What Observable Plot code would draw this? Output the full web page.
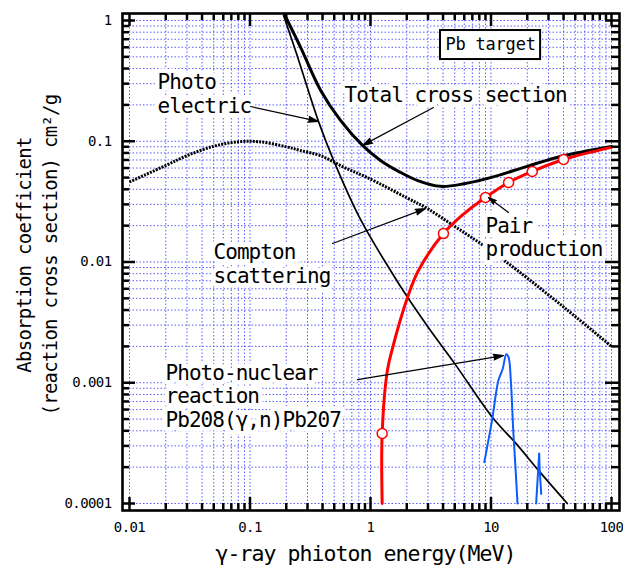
<!DOCTYPE html>
<html><head><meta charset="utf-8">
<script src="https://cdn.jsdelivr.net/npm/d3@7"></script>
<script src="https://cdn.jsdelivr.net/npm/@observablehq/plot@0.6"></script>
<style>
body{margin:0;background:#fff;overflow:hidden}
svg{display:block}
</style>
</head><body><div id="chart"></div>
<script>
// ---- data (MeV, cm^2/g) ----
const photoE = [0.19, 0.243, 0.37, 0.494, 0.826, 1.466, 2.03, 3, 5, 10.3, 16.3, 25.7, 43];
const photoV = [1.1, 0.533, 0.146, 0.0694, 0.0225, 0.0085, 0.0051, 0.0029, 0.00144, 0.000515, 0.00031, 0.00018, 0.0001];

const totalE = [0.195, 0.263, 0.385, 0.564, 0.859, 1.21, 1.77, 2.5, 3.81, 6, 9.9, 20, 37.8, 100];
const totalV = [1.1, 0.6, 0.265, 0.149, 0.0924, 0.0694, 0.0553, 0.047, 0.0423, 0.0445, 0.050, 0.062, 0.0748, 0.0905];

const comptonE = [0.01, 0.02, 0.03, 0.05, 0.08, 0.12, 0.2, 0.26, 0.385, 0.6, 0.944, 2, 2.97, 5, 8.67, 16.6, 43, 100];
const comptonV = [0.046, 0.063, 0.076, 0.091, 0.099, 0.099, 0.090, 0.084, 0.076, 0.061, 0.050, 0.034, 0.0277, 0.0197, 0.0137, 0.0085, 0.0040, 0.0020];

const pairE = [1.25, 1.25, 1.38, 1.52, 2.03, 2.5, 4.03, 6, 9, 14, 22, 40, 100];
const pairV = [0.0001, 0.00038, 0.00126, 0.00192, 0.0051, 0.0085, 0.0172, 0.0252, 0.0342, 0.0455, 0.0562, 0.0706, 0.089];

const pairMarkE = [1.25, 4.03, 9, 14, 22, 40];
const pairMarkV = [0.00038, 0.0172, 0.0342, 0.0455, 0.0562, 0.0706];

const nuclearE = [8.8, 9.5, 10.3, 11.5, 12.5, 13.4, 14.0, 14.6, 15.3, 16.0, 16.6];
const nuclearV = [0.00022, 0.00033, 0.00052, 0.00104, 0.0013, 0.00172, 0.00162, 0.00105, 0.0004, 0.00019, 0.0001];

const nuclear2E = [23.7, 25.1, 25.4, 26.1];
const nuclear2V = [0.0001, 0.00026, 0.000185, 0.00012];

const xTicks = [0.01, 0.1, 1, 10, 100];
const xTickLabels = ["0.01", "0.1", "1", "10", "100"];
const yTicks = [0.0001, 0.001, 0.01, 0.1, 1];
const yTickLabels = ["0.0001", "0.001", "0.01", "0.1", "1"];

const xTitle = "γ-ray phioton energy(MeV)";
const yTitle = "Absorption coefficient\n(reaction cross section) cm²/g";

const annotText = ["Total cross section", "Photo\nelectric", "Compton\nscattering", "Pair\nproduction", "Photo-nuclear\nreaction\nPb208(γ,n)Pb207"];
const annotE = [0.608, 0.0171, 0.0498, 9.0, 0.0199];
const annotV = [0.244, 0.248, 0.00972, 0.0161, 0.000784];

const arrowE1 = [0.101, 3.33, 0.484, 13.97, 0.78];
const arrowV1 = [0.194, 0.19, 0.01424, 0.0257, 0.00106];
const arrowE2 = [0.37, 0.859, 2.86, 9.53, 12.7];
const arrowV2 = [0.146, 0.0924, 0.0277, 0.0342, 0.00168];

const boxText = "Pb target";
const boxE = [3.81, 25.8];
const boxV = [0.475, 0.826];

// ---- derived tables ----
const zip = (E, V) => E.map((e, i) => ({e, v: V[i]}));
const photo = zip(photoE, photoV);
const total = zip(totalE, totalV);
const compton = zip(comptonE, comptonV);
const pair = zip(pairE, pairV);
const pairMarks = zip(pairMarkE, pairMarkV);
const nuclear = zip(nuclearE, nuclearV);
const nuclear2 = zip(nuclear2E, nuclear2V);
const annots = annotText.map((t, i) => ({t, e: annotE[i], v: annotV[i]}));
const arrows = arrowE1.map((e, i) => ({x1: e, y1: arrowV1[i], x2: arrowE2[i], y2: arrowV2[i]}));

const minorOf = majors => majors.slice(0, -1).flatMap(m => [2,3,4,5,6,7,8,9].map(k => +(m * k).toPrecision(3)));
const xMinor = minorOf(xTicks);
const yMinor = minorOf(yTicks);
const xAll = [...xTicks, ...xMinor];
const yAll = [...yTicks, ...yMinor];
const xLabelMap = new Map(xTicks.map((d, i) => [d, xTickLabels[i]]));
const yLabelMap = new Map(yTicks.map((d, i) => [d, yTickLabels[i]]));

const TW = 2.5;
const chart = Plot.plot({
  width: 623, height: 567,
  marginLeft: 129, marginRight: 12, marginTop: 20, marginBottom: 64,
  x: {type: "log", domain: [0.01, 100]},
  y: {type: "log", domain: [0.0001, 1]},
  style: {fontFamily: "'DejaVu Sans Mono', monospace", background: "white", color: "black"},
  marks: [
    Plot.gridX(xAll, {stroke: "#4a4aff", strokeOpacity: 0.9, strokeWidth: 1, strokeDasharray: "1.5,2"}),
    Plot.gridY(yAll, {stroke: "#4a4aff", strokeOpacity: 0.9, strokeWidth: 1, strokeDasharray: "1.5,2"}),
    Plot.line(compton, {x: "e", y: "v", curve: "catmull-rom", stroke: "black", strokeWidth: 3, strokeDasharray: "2,1.2", strokeLinecap: "butt"}),
    Plot.line(photo, {x: "e", y: "v", curve: "catmull-rom", stroke: "black", strokeWidth: 1.7}),
    Plot.line(total, {x: "e", y: "v", curve: "catmull-rom", stroke: "black", strokeWidth: 3}),
    Plot.line(pair, {x: "e", y: "v", curve: "catmull-rom", stroke: "#ff0000", strokeWidth: 3}),
    Plot.dot(pairMarks, {x: "e", y: "v", r: 5, fill: "white", stroke: "#ff0000", strokeWidth: 1.5}),
    Plot.line(nuclear, {x: "e", y: "v", curve: "catmull-rom", stroke: "#0a5cff", strokeWidth: 2}),
    Plot.line(nuclear2, {x: "e", y: "v", stroke: "#0a5cff", strokeWidth: 2}),
    Plot.text(annots, {x: "e", y: "v", text: "t", textAnchor: "start", lineAnchor: "middle", fontSize: 21, lineHeight: 1.12,
      fill: "black", stroke: "white", strokeWidth: 9, paintOrder: "stroke", strokeLinejoin: "round"}),
    Plot.arrow(arrows, {x1: "x1", y1: "y1", x2: "x2", y2: "y2", stroke: "black", fill: "black", strokeWidth: 1.2, headLength: 13, headAngle: 32}),
    Plot.rect([0], {x1: () => boxE[0], x2: () => boxE[1], y1: () => boxV[0], y2: () => boxV[1], fill: "white", stroke: "black", strokeWidth: 2}),
    Plot.text([boxText], {x: () => Math.sqrt(boxE[0] * boxE[1]), y: () => Math.sqrt(boxV[0] * boxV[1]), text: d => d, fontSize: 17}),
    // inward ticks on all four sides
    Plot.ruleX(xMinor, {x: d => d, insetTop: 483, insetBottom: -7, strokeWidth: TW}),
    Plot.ruleX(xTicks, {x: d => d, insetTop: 477, insetBottom: -7, strokeWidth: TW}),
    Plot.ruleX(xMinor, {x: d => d, insetTop: -7, insetBottom: 483, strokeWidth: TW}),
    Plot.ruleX(xTicks, {x: d => d, insetTop: -7, insetBottom: 477, strokeWidth: TW}),
    Plot.ruleY(yMinor, {y: d => d, insetLeft: -7, insetRight: 482, strokeWidth: TW}),
    Plot.ruleY(yTicks, {y: d => d, insetLeft: -7, insetRight: 476, strokeWidth: TW}),
    Plot.ruleY(yMinor, {y: d => d, insetLeft: 482, insetRight: -8, strokeWidth: TW}),
    Plot.ruleY(yTicks, {y: d => d, insetLeft: 476, insetRight: -8, strokeWidth: TW}),
    Plot.frame({stroke: "black", strokeWidth: 2.6, insetLeft: -7, insetRight: -8, insetTop: -7, insetBottom: -7}),
    Plot.axisX(xTicks, {anchor: "bottom", tickSize: 0, tickPadding: 19, tickFormat: d => xLabelMap.get(d), fontSize: 14, label: null}),
    Plot.axisY(yTicks, {anchor: "left", tickSize: 0, tickPadding: 18, tickFormat: d => yLabelMap.get(d), fontSize: 14, label: null}),
    Plot.text([xTitle], {text: d => d, frameAnchor: "bottom", textAnchor: "middle", lineAnchor: "middle", dy: 51, dx: -5, fontSize: 21.5}),
    Plot.text([yTitle], {text: d => d, frameAnchor: "left", textAnchor: "middle", lineAnchor: "middle", rotate: -90, dx: -94, dy: -7, fontSize: 19, lineHeight: 1.35})
  ]
});
// condensed spacing to mimic the narrow half-width glyphs of the original
const spacing = {"21": -0.95, "21.5": -0.94, "19": -0.74, "17": -0.2, "14": -0.6};
d3.select(chart).selectAll("g[font-size]").each(function() {
  const ls = spacing[this.getAttribute("font-size")];
  if (ls !== undefined) this.setAttribute("letter-spacing", ls);
});
document.getElementById("chart").appendChild(chart);
</script>
</body></html>
